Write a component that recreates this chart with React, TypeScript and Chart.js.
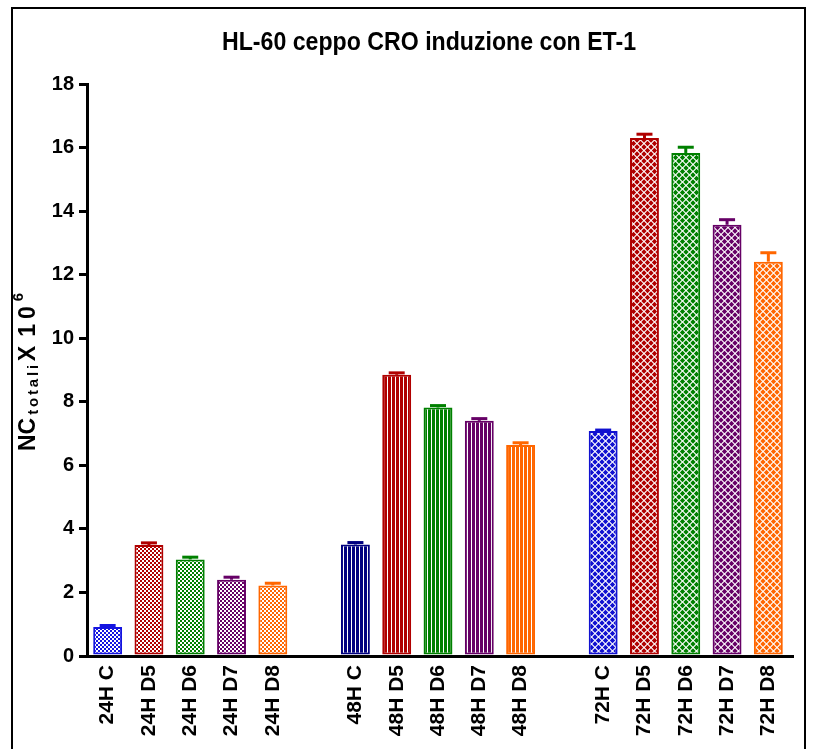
import React, { useEffect, useRef } from "react";
import { Chart, registerables } from "chart.js";

Chart.register(...registerables);

const titleText = "HL-60 ceppo CRO induzione con ET-1";

const categories = [
  "24H C", "24H D5", "24H D6", "24H D7", "24H D8", "",
  "48H C", "48H D5", "48H D6", "48H D7", "48H D8", "",
  "72H C", "72H D5", "72H D6", "72H D7", "72H D8",
];

const values = [
  0.91, 3.49, 3.04, 2.4, 2.22, null,
  3.51, 8.85, 7.82, 7.4, 6.64, null,
  7.08, 16.3, 15.83, 13.57, 12.41,
];

const errors = [
  0.05, 0.07, 0.07, 0.08, 0.07, null,
  0.06, 0.06, 0.06, 0.07, 0.07, null,
  0.03, 0.12, 0.18, 0.16, 0.28,
];

const barColors = [
  "#1414e0", "#b00000", "#008000", "#660066", "#ff6600", "#000000",
  "#000080", "#b00000", "#008000", "#660066", "#ff6600", "#000000",
  "#1010d0", "#b00000", "#008000", "#660066", "#ff6600",
];

const patternKinds = [
  "checker", "checker", "checker", "checker", "checker", "none",
  "stripes", "stripes", "stripes", "stripes", "stripes", "none",
  "diamond", "diamond", "diamond", "diamond", "diamond",
];

const yTicks = [0, 2, 4, 6, 8, 10, 12, 14, 16, 18];

const FONT = "'Liberation Sans', Arial, Helvetica, sans-serif";

function makePattern(kind: string, color: string): CanvasPattern | string {
  const c = document.createElement("canvas");
  let ctx: CanvasRenderingContext2D | null = null;
  if (kind === "checker") {
    c.width = 4; c.height = 4;
    ctx = c.getContext("2d")!;
    ctx.fillStyle = "#ffffff";
    ctx.fillRect(0, 0, 4, 4);
    ctx.fillStyle = color;
    ctx.fillRect(0, 0, 2, 2);
    ctx.fillRect(2, 2, 2, 2);
  } else if (kind === "stripes") {
    c.width = 4; c.height = 4;
    ctx = c.getContext("2d")!;
    ctx.fillStyle = "#ffffff";
    ctx.fillRect(0, 0, 4, 4);
    ctx.fillStyle = color;
    ctx.fillRect(0, 0, 3, 4);
  } else if (kind === "diamond") {
    c.width = 7; c.height = 7;
    ctx = c.getContext("2d")!;
    ctx.fillStyle = "#ffffff";
    ctx.fillRect(0, 0, 7, 7);
    ctx.fillStyle = color;
    const dia = (cx: number, cy: number, r: number) => {
      ctx!.beginPath();
      ctx!.moveTo(cx, cy - r);
      ctx!.lineTo(cx + r, cy);
      ctx!.lineTo(cx, cy + r);
      ctx!.lineTo(cx - r, cy);
      ctx!.closePath();
      ctx!.fill();
    };
    const r = 2.7;
    dia(3.5, 3.5, r);
    dia(0, 0, r); dia(7, 0, r); dia(0, 7, r); dia(7, 7, r);
  } else {
    return color;
  }
  const p = ctx.createPattern(c, "repeat");
  return p || color;
}

const framePlugin = {
  id: "frame",
  beforeDraw(chart: any) {
    const ctx = chart.ctx;
    ctx.save();
    ctx.fillStyle = "#ffffff";
    ctx.fillRect(0, 0, chart.width, chart.height);
    ctx.strokeStyle = "#000000";
    ctx.lineWidth = 2;
    ctx.beginPath();
    ctx.moveTo(12, chart.height + 2);
    ctx.lineTo(12, 8);
    ctx.lineTo(805, 8);
    ctx.lineTo(805, chart.height + 2);
    ctx.stroke();
    ctx.restore();
  },
  afterDraw(chart: any) {
    const ctx = chart.ctx;
    const area = chart.chartArea;
    ctx.save();
    // extend x axis line slightly past the last category
    ctx.strokeStyle = "#000000";
    ctx.lineWidth = 3;
    ctx.beginPath();
    ctx.moveTo(area.right - 2, chart.scales.x.top + 0.5);
    ctx.lineTo(area.right + 5, chart.scales.x.top + 0.5);
    ctx.stroke();

    // Title
    ctx.fillStyle = "#000000";
    ctx.font = `bold 26px ${FONT}`;
    ctx.textBaseline = "alphabetic";
    const w = ctx.measureText(titleText).width;
    const target = 414;
    const sx = target / w;
    ctx.translate(429, 50);
    ctx.scale(sx, 1);
    ctx.textAlign = "center";
    ctx.fillText(titleText, 0, 0);
    ctx.restore();

    // Y axis title: NC_totali X 10^6
    ctx.save();
    ctx.fillStyle = "#000000";
    ctx.translate(35, 451);
    ctx.rotate(-Math.PI / 2);
    ctx.textAlign = "left";
    ctx.textBaseline = "alphabetic";
    let x = 0;
    const part = (t: string, size: number, dy: number, spacing: number) => {
      ctx.font = `bold ${size}px ${FONT}`;
      for (const ch of t) {
        ctx.fillText(ch, x, dy);
        x += ctx.measureText(ch).width + spacing;
      }
    };
    part("NC", 23, 0, 0);
    x += 3;
    part("totali", 15, 3, 2.8);
    x += 1;
    part("X", 23, 0, 0);
    x += 9;
    part("1", 23, 0, 5);
    part("0", 23, 0, 2);
    x += 3;
    part("6", 15, -12, 0);
    ctx.restore();
  },
};

const errorBarPlugin = {
  id: "errorBars",
  afterDatasetsDraw(chart: any) {
    const ctx = chart.ctx;
    const meta = chart.getDatasetMeta(0);
    const yScale = chart.scales.y;
    ctx.save();
    meta.data.forEach((el: any, i: number) => {
      const v = values[i];
      const e = errors[i];
      if (v == null || e == null) return;
      const yTop = yScale.getPixelForValue(v + e);
      const yBar = yScale.getPixelForValue(v);
      ctx.strokeStyle = barColors[i];
      ctx.lineWidth = 3;
      ctx.beginPath();
      ctx.moveTo(el.x, yBar);
      ctx.lineTo(el.x, yTop);
      ctx.stroke();
      ctx.beginPath();
      ctx.moveTo(el.x - 8, yTop);
      ctx.lineTo(el.x + 8, yTop);
      ctx.stroke();
    });
    ctx.restore();
  },
};

export default function App() {
  const ref = useRef<HTMLCanvasElement | null>(null);

  useEffect(() => {
    if (!ref.current) return;
    const bg = values.map((_, i) => makePattern(patternKinds[i], barColors[i]));
    const chart = new Chart(ref.current, {
      type: "bar",
      data: {
        labels: categories,
        datasets: [
          {
            data: values as any,
            backgroundColor: bg as any,
            borderColor: barColors,
            borderWidth: 2,
            borderSkipped: false,
            barPercentage: 0.7,
            categoryPercentage: 1,
          },
        ],
      },
      options: {
        responsive: false,
        animation: false,
        devicePixelRatio: 1,
        layout: { padding: { top: 84, right: 24, left: 0, bottom: 0 } },
        plugins: {
          legend: { display: false },
          title: { display: false },
          tooltip: { enabled: false },
        },
        scales: {
          x: {
            afterFit: (s: any) => { s.height = 93; },
            grid: { display: false },
            border: { display: true, color: "#000000", width: 3 },
            ticks: {
              color: "#000000",
              font: { family: FONT, size: 21, weight: "bold" },
              minRotation: 90,
              maxRotation: 90,
              autoSkip: false,
              padding: 1,
            },
          },
          y: {
            min: 0,
            max: 18,
            afterFit: (s: any) => { s.width = 87; },
            afterBuildTicks: (s: any) => { s.ticks = yTicks.map((v) => ({ value: v })); },
            grid: {
              display: true,
              drawOnChartArea: false,
              drawTicks: true,
              tickLength: 8,
              color: "#000000",
              lineWidth: 3,
            },
            border: { display: true, color: "#000000", width: 3 },
            ticks: {
              color: "#000000",
              font: { family: FONT, size: 20, weight: "bold" },
              padding: 5,
            },
          },
        },
      },
      plugins: [framePlugin, errorBarPlugin],
    });
    return () => chart.destroy();
  }, []);

  return (
    <canvas
      ref={ref}
      width={813}
      height={749}
      style={{ position: "fixed", left: 0, top: 0, width: 813, height: 749 }}
    />
  );
}
